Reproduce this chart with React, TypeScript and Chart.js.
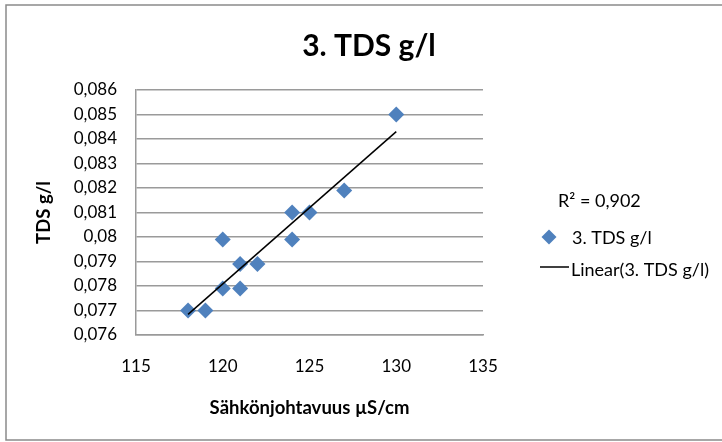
import React, { useEffect, useRef } from 'react';
import { Chart, registerables } from 'chart.js';

Chart.register(...registerables);

// ---- data ----
const conductivity = [118, 119, 120, 120, 121, 121, 122, 124, 124, 125, 127, 130];
const tds = [0.077, 0.077, 0.0799, 0.0779, 0.0789, 0.0779, 0.0789, 0.081, 0.0799, 0.081, 0.0819, 0.085];
const xTicks = [115, 120, 125, 130, 135];
const yTicks = [0.076, 0.077, 0.078, 0.079, 0.08, 0.081, 0.082, 0.083, 0.084, 0.085, 0.086];
const chartTitle = '3. TDS g/l';
const seriesName = '3. TDS g/l';
const trendName = 'Linear(3. TDS g/l)';
const r2Label = 'R² = 0,902';
const xTitle = 'Sähkönjohtavuus µS/cm';
const yTitle = 'TDS g/l';

const FONT = 'Lato, "Open Sans", sans-serif';
const BLUE = '#4F81BD';
const GRID = '#9a9a9a';

function linearFit(xs: number[], ys: number[]) {
  const n = xs.length;
  const mx = xs.reduce((a, b) => a + b, 0) / n;
  const my = ys.reduce((a, b) => a + b, 0) / n;
  let sxy = 0, sxx = 0;
  for (let i = 0; i < n; i++) {
    sxy += (xs[i] - mx) * (ys[i] - my);
    sxx += (xs[i] - mx) * (xs[i] - mx);
  }
  const slope = sxy / sxx;
  return { slope, intercept: my - slope * mx };
}

const fmtY = (v: number) => String(Number(v.toFixed(3))).replace('.', ',');

const decor = {
  id: 'decor',
  beforeDraw(chart: any) {
    const ctx = chart.ctx;
    ctx.save();
    ctx.fillStyle = '#ffffff';
    ctx.fillRect(0, 0, chart.width, chart.height);
    ctx.strokeStyle = '#8a8a8a';
    ctx.lineWidth = 1.5;
    ctx.strokeRect(6, 5, 760, 435);
    ctx.restore();
  },
  afterDraw(chart: any) {
    const ctx = chart.ctx;
    ctx.save();
    ctx.fillStyle = '#000';
    ctx.textBaseline = 'middle';
    ctx.textAlign = 'center';
    ctx.font = `bold 30px ${FONT}`;
    ctx.fillText(chartTitle, 369, 46);

    ctx.textAlign = 'left';
    ctx.font = `18px ${FONT}`;
    ctx.fillText(r2Label, 558, 201);

    // diamond marker
    const cx = 549, cy = 237, r = 7.5;
    ctx.fillStyle = BLUE;
    ctx.beginPath();
    ctx.moveTo(cx, cy - r);
    ctx.lineTo(cx + r, cy);
    ctx.lineTo(cx, cy + r);
    ctx.lineTo(cx - r, cy);
    ctx.closePath();
    ctx.fill();

    ctx.fillStyle = '#000';
    ctx.fillText(seriesName, 572, 238);

    ctx.strokeStyle = '#000';
    ctx.lineWidth = 1.5;
    ctx.beginPath();
    ctx.moveTo(540, 267);
    ctx.lineTo(569, 267);
    ctx.stroke();
    ctx.fillText(trendName, 571, 270);
    ctx.restore();
  },
};

export default function App() {
  const ref = useRef<HTMLCanvasElement | null>(null);

  useEffect(() => {
    if (!ref.current) return;
    const fit = linearFit(conductivity, tds);
    const xMin = Math.min(...conductivity);
    const xMax = Math.max(...conductivity);
    const trend = [xMin, xMax].map((x) => ({ x, y: fit.intercept + fit.slope * x }));
    const points = conductivity.map((x, i) => ({ x, y: tds[i] }));

    const chart = new Chart(ref.current, {
      type: 'scatter',
      data: {
        datasets: [
          {
            type: 'line',
            label: trendName,
            data: trend,
            borderColor: '#000',
            borderWidth: 1.5,
            pointRadius: 0,
            fill: false,
            order: 0,
          } as any,
          {
            label: seriesName,
            data: points,
            pointStyle: 'rectRot',
            pointRadius: 8,
            pointHoverRadius: 8,
            backgroundColor: BLUE,
            borderColor: BLUE,
            borderWidth: 0,
            order: 1,
          },
        ],
      },
      options: {
        responsive: false,
        animation: false,
        devicePixelRatio: 1,
        layout: { padding: { left: 0, top: 90, right: 239, bottom: 0 } },
        plugins: {
          legend: { display: false },
          title: { display: false },
          tooltip: { enabled: false },
        },
        scales: {
          x: {
            type: 'linear',
            min: 115,
            max: 135,
            afterBuildTicks: (s: any) => {
              s.ticks = xTicks.map((v) => ({ value: v }));
            },
            afterFit: (s: any) => {
              s.height = 107;
            },
            ticks: {
              color: '#000',
              font: { family: FONT, size: 17 },
              padding: 21,
              maxRotation: 0,
            },
            grid: { display: false, drawTicks: false },
            border: { display: true, color: GRID, width: 1.5 },
            title: {
              display: true,
              text: xTitle,
              color: '#000',
              font: { family: FONT, size: 18.5, weight: 'bold' },
              padding: { top: 0, bottom: 23 },
            },
          },
          y: {
            type: 'linear',
            min: 0.076,
            max: 0.086,
            afterBuildTicks: (s: any) => {
              s.ticks = yTicks.map((v) => ({ value: v }));
            },
            afterFit: (s: any) => {
              s.width = 136;
            },
            ticks: {
              color: '#000',
              font: { family: FONT, size: 17 },
              padding: 19,
              callback: (v: any) => fmtY(Number(v)),
            },
            grid: { color: GRID, lineWidth: 1.5, drawTicks: false },
            border: { display: true, color: GRID, width: 1.5 },
            title: {
              display: true,
              text: yTitle,
              color: '#000',
              font: { family: FONT, size: 18.5, weight: 'bold' },
              padding: { top: 33, bottom: 0 },
            },
          },
        },
      },
      plugins: [decor],
    });
    return () => chart.destroy();
  }, []);

  return (
    <div style={{ position: 'fixed', left: 0, top: 0, width: 722, height: 442, background: '#fff' }}>
      <canvas ref={ref} width={722} height={442} style={{ display: 'block', width: 722, height: 442 }} />
    </div>
  );
}
